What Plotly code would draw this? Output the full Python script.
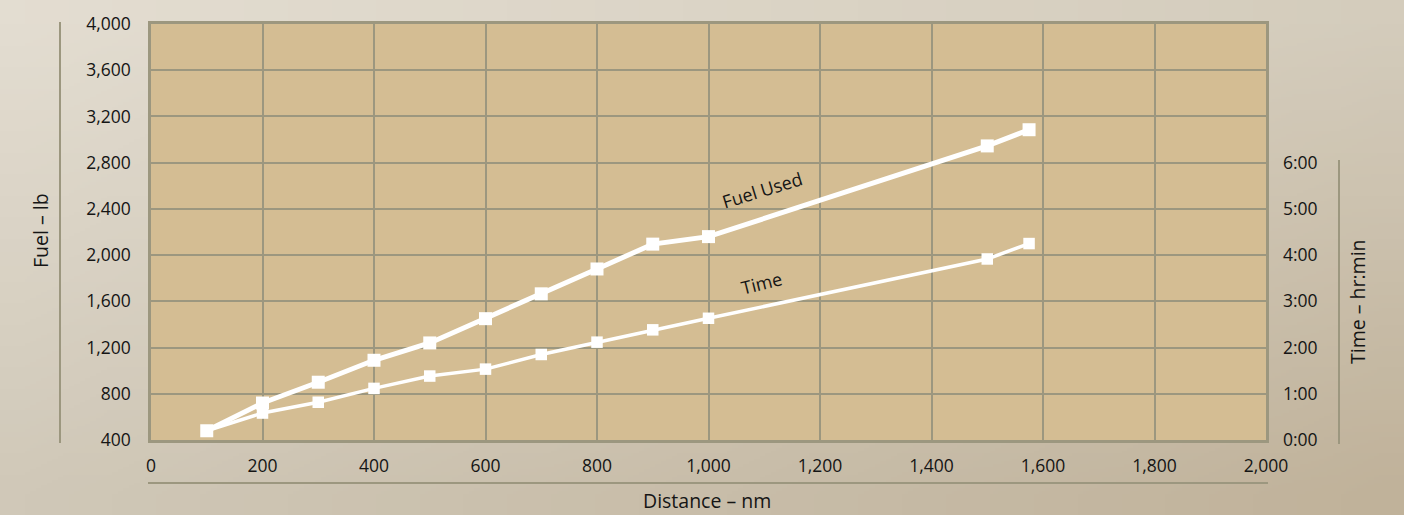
import base64, struct, zlib
import plotly.graph_objects as go

# ---------------- data ----------------
distance_nm = [100, 200, 300, 400, 500, 600, 700, 800, 900, 1000, 1500, 1575]
fuel_used_lb = [480, 720, 900, 1090, 1240, 1450, 1665, 1880, 2095, 2160, 2945, 3085]
time_min = [12, 35, 49, 67, 83, 92, 111, 127, 143, 158, 235, 255]

x_ticks = list(range(0, 2001, 200))
fuel_ticks = list(range(400, 4001, 400))
time_tick_vals = [0, 60, 120, 180, 240, 300, 360]
time_tick_text = ["0:00", "1:00", "2:00", "3:00", "4:00", "5:00", "6:00"]

# ---------------- background gradient (paper) ----------------
def gradient_png(w, h, tl, tr, bl, br):
    rows = []
    for j in range(h):
        v = j / (h - 1)
        row = bytearray([0])
        for i in range(w):
            u = i / (w - 1)
            for c in range(3):
                top = tl[c] * (1 - u) + tr[c] * u
                bot = bl[c] * (1 - u) + br[c] * u
                row.append(int(round(top * (1 - v) + bot * v)))
        rows.append(bytes(row))
    raw = b"".join(rows)

    def chunk(tag, data):
        c = struct.pack(">I", len(data)) + tag + data
        return c + struct.pack(">I", zlib.crc32(tag + data) & 0xFFFFFFFF)

    png = b"\x89PNG\r\n\x1a\n"
    png += chunk(b"IHDR", struct.pack(">IIBBBBB", w, h, 8, 2, 0, 0, 0))
    png += chunk(b"IDAT", zlib.compress(raw, 9))
    png += chunk(b"IEND", b"")
    return "data:image/png;base64," + base64.b64encode(png).decode()

bg_src = gradient_png(32, 12, (227, 221, 209), (212, 204, 188), (208, 200, 184), (192, 178, 154))

# ---------------- layout geometry ----------------
W, H = 1404, 515
ML, MR, MT, MB = 151, 138, 24, 75
PW, PH = W - ML - MR, H - MT - MB

def px(xp):
    return (xp - ML) / PW

def py(yp):
    return (MT + PH - yp) / PH

GRID = "#9c977f"
TXT = "#151515"
FONT = "Open Sans"

fig = go.Figure()

fig.add_trace(go.Scatter(
    x=distance_nm, y=fuel_used_lb, mode="lines+markers", name="Fuel Used",
    line=dict(color="white", width=5),
    marker=dict(symbol="square", size=13, color="white"),
    cliponaxis=False, showlegend=False,
))
fig.add_trace(go.Scatter(
    x=distance_nm, y=time_min, mode="lines+markers", name="Time", yaxis="y2",
    line=dict(color="white", width=3.5),
    marker=dict(symbol="square", size=11.5, color="white"),
    cliponaxis=False, showlegend=False,
))

fig.update_layout(
    width=W, height=H,
    margin=dict(l=ML, r=MR, t=MT, b=MB, pad=0),
    paper_bgcolor="#d8d0c0",
    plot_bgcolor="#d4bd93",
    font=dict(family=FONT, size=17, color=TXT),
    xaxis=dict(
        range=[0, 2000], tickvals=x_ticks, tickformat=",d",
        showgrid=True, gridcolor=GRID, gridwidth=2.2,
        showline=True, linecolor=GRID, linewidth=2.5, mirror=True,
        ticks="", ticklabelstandoff=8, zeroline=False,
        tickfont=dict(size=17.5, color=TXT),
    ),
    yaxis=dict(
        range=[400, 4000], tickvals=fuel_ticks, tickformat=",d",
        showgrid=True, gridcolor=GRID, gridwidth=2.2,
        showline=True, linecolor=GRID, linewidth=2.5, mirror=True,
        ticks="", ticklabelstandoff=14, zeroline=False,
        tickfont=dict(size=17.5, color=TXT),
    ),
    yaxis2=dict(
        range=[0, 540], overlaying="y", side="right",
        tickvals=time_tick_vals, ticktext=time_tick_text,
        showgrid=False, zeroline=False, showline=False,
        ticks="", ticklabelstandoff=16,
        tickfont=dict(size=17.5, color=TXT),
    ),
    images=[dict(
        source=bg_src, xref="paper", yref="paper",
        x=px(0), y=py(0), sizex=W / PW, sizey=H / PH,
        xanchor="left", yanchor="top", sizing="stretch", layer="below",
    )],
    shapes=[
        dict(type="rect", xref="paper", yref="paper", x0=0, x1=1, y0=0, y1=1,
             fillcolor="#d4bd93", line=dict(width=0), layer="below"),
        dict(type="line", xref="paper", yref="paper", x0=px(60), x1=px(60),
             y0=py(22), y1=py(443), line=dict(color=GRID, width=2)),
        dict(type="line", xref="paper", yref="paper", x0=px(1339), x1=px(1339),
             y0=py(160), y1=py(444), line=dict(color=GRID, width=2)),
        dict(type="line", xref="paper", yref="paper", x0=px(148), x1=px(1268),
             y0=py(483), y1=py(483), line=dict(color=GRID, width=2)),
    ],
    annotations=[
        dict(text="Fuel – lb", xref="paper", yref="paper", x=px(40), y=py(231),
             xanchor="center", yanchor="middle",
             textangle=-90, showarrow=False, font=dict(size=19.5, color=TXT)),
        dict(text="Time – hr:min", xref="paper", yref="paper", x=px(1357), y=py(302),
             xanchor="center", yanchor="middle",
             textangle=-90, showarrow=False, font=dict(size=19.5, color=TXT)),
        dict(text="Distance – nm", xref="paper", yref="paper", x=px(707), y=py(500),
             xanchor="center", yanchor="middle",
             showarrow=False, font=dict(size=19.5, color=TXT)),
        dict(text="Fuel Used", xref="x", yref="y", x=1096, y=2564,
             xanchor="center", yanchor="middle",
             textangle=-17, showarrow=False, font=dict(size=18, color=TXT)),
        dict(text="Time", xref="x", yref="y", x=1095, y=1759,
             xanchor="center", yanchor="middle",
             textangle=-14, showarrow=False, font=dict(size=18, color=TXT)),
    ],
)

fig.write_html(
    "out.html",
    config={"displayModeBar": False},
    post_script="document.body.style.margin='0';document.body.style.padding='0';",
)
